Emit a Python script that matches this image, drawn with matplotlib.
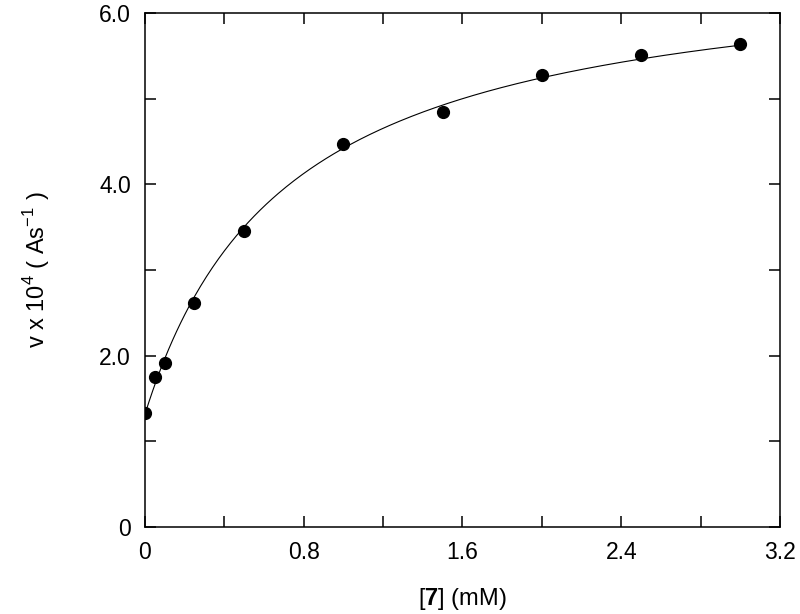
import numpy as np
import matplotlib
matplotlib.use('Agg')
import matplotlib.pyplot as plt

plt.rcParams['font.family'] = ['Liberation Sans', 'DejaVu Sans']
plt.rcParams['mathtext.fontset'] = 'custom'
plt.rcParams['mathtext.rm'] = 'Liberation Sans'
plt.rcParams['mathtext.bf'] = 'Liberation Sans:bold'

# Measured rates vs concentration of 7
conc_mM = [0.0, 0.05, 0.1, 0.25, 0.5, 1.0, 1.5, 2.0, 2.5, 3.0]
rate = [1.33, 1.75, 1.91, 2.62, 3.46, 4.47, 4.84, 5.28, 5.51, 5.64]

# Hyperbolic fit parameters: v = v0 + Vmax*x/(K + x)
fit_v0 = 1.31
fit_vmax = 5.35
fit_k = 0.72

x_ticklabels = ['0', '', '0.8', '', '1.6', '', '2.4', '', '3.2']
y_ticklabels = ['0', '', '2.0', '', '4.0', '', '6.0']

fig = plt.figure(figsize=(8, 6.14), dpi=100)
ax = fig.add_axes([0.181, 0.1417, 0.794, 0.8371])

xs = np.linspace(0, max(conc_mM), 300)
ax.plot(xs, fit_v0 + fit_vmax * xs / (fit_k + xs), color='black', linewidth=0.8)
ax.plot(conc_mM, rate, 'o', color='black', markersize=8.5)

ax.set_xlim(0, 3.2)
ax.set_ylim(0, 6.0)
ax.set_xticks(np.arange(0, 3.21, 0.4))
ax.set_xticklabels(x_ticklabels)
ax.set_yticks(np.arange(0, 6.01, 1.0))
ax.set_yticklabels(y_ticklabels)

ax.tick_params(direction='in', length=8, width=1.1, top=True, right=True,
               labelsize=16.5, pad=10)
for sp in ax.spines.values():
    sp.set_linewidth(1.1)

ax.set_xlabel(r'[$\mathbf{7}$] (mM)', fontsize=17, labelpad=16)
ax.set_ylabel(r'v x 10$^\mathrm{4}$ ( As$^\mathrm{-1}$ )', fontsize=17, labelpad=34)

fig.savefig('out.png', dpi=100)
